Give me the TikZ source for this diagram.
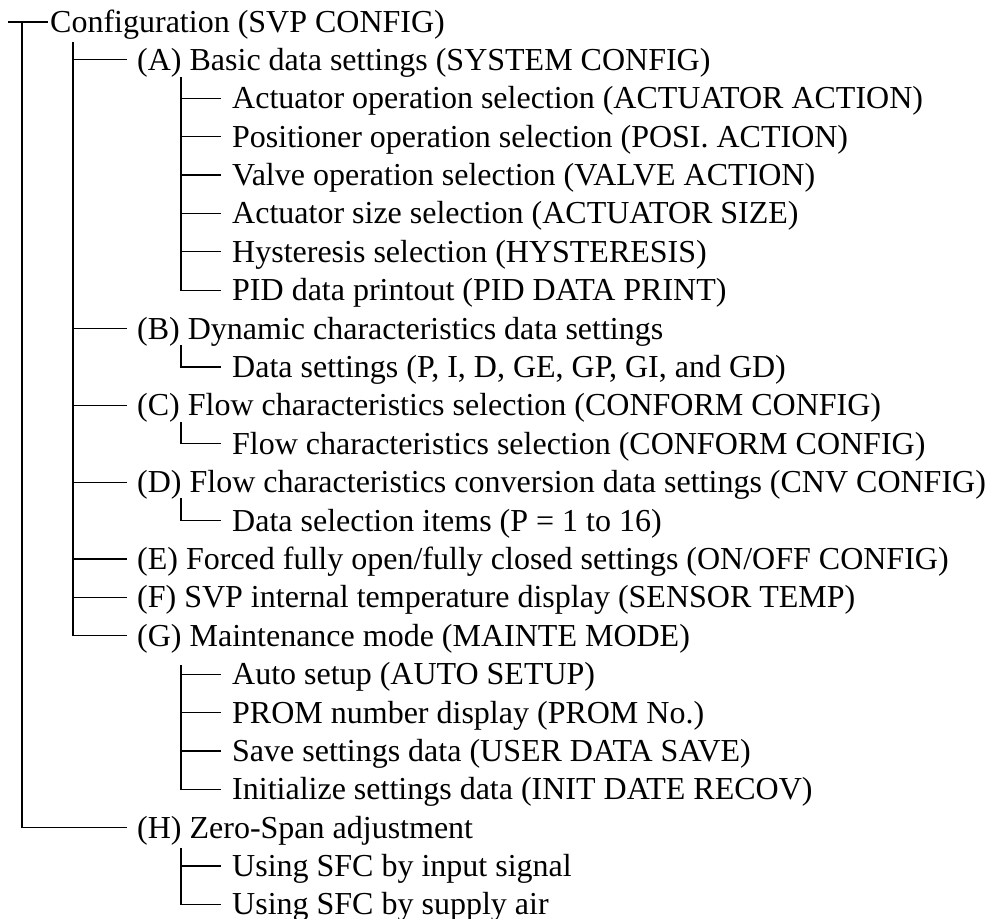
\documentclass[tikz,border=0pt]{standalone}
\usepackage{fontspec}
\setmainfont{Liberation Serif}
\begin{document}
\begin{tikzpicture}[x=1pt,y=-1pt,
  lbl/.style={anchor=base west,inner sep=0pt,text height=21pt,text depth=0pt,font=\fontsize{32}{36}\selectfont},
  br/.style={line width=1.2pt,line cap=butt}]
\useasboundingbox (0,0) rectangle (986,919);
\def\rowy#1{32+38.39*#1}
% root
\node[lbl] (n0) at (50,{\rowy{0}}) {Configuration (SVP CONFIG)};
% level 1
\foreach \i/\t in {1/{(A) Basic data settings (SYSTEM CONFIG)},
                   8/{(B) Dynamic characteristics data settings},
                   10/{(C) Flow characteristics selection (CONFORM CONFIG)},
                   12/{(D) Flow characteristics conversion data settings (CNV CONFIG)},
                   14/{(E) Forced fully open/fully closed settings (ON/OFF CONFIG)},
                   15/{(F) SVP internal temperature display (SENSOR TEMP)},
                   16/{(G) Maintenance mode (MAINTE MODE)},
                   21/{(H) Zero-Span adjustment}}
  {\node[lbl] (n\i) at (137,{\rowy{\i}}) {\t};}
% level 2
\foreach \i/\t in {2/{Actuator operation selection (ACTUATOR ACTION)},
                   3/{Positioner operation selection (POSI. ACTION)},
                   4/{Valve operation selection (VALVE ACTION)},
                   5/{Actuator size selection (ACTUATOR SIZE)},
                   6/{Hysteresis selection (HYSTERESIS)},
                   7/{PID data printout (PID DATA PRINT)},
                   9/{Data settings (P, I, D, GE, GP, GI, and GD)},
                   11/{Flow characteristics selection (CONFORM CONFIG)},
                   13/{Data selection items (P = 1 to 16)},
                   17/{Auto setup (AUTO SETUP)},
                   18/{PROM number display (PROM No.)},
                   19/{Save settings data (USER DATA SAVE)},
                   20/{Initialize settings data (INIT DATE RECOV)},
                   22/{Using SFC by input signal},
                   23/{Using SFC by supply air}}
  {\node[lbl] (n\i) at (232,{\rowy{\i}}) {\t};}
% trunk coordinates
\coordinate (r0) at (8,22);
\coordinate (t0) at (22,22);
\coordinate (t1) at (73,42);
\coordinate (tA) at (181,77);
\coordinate (tB) at (181,345);
\coordinate (tC) at (181,422);
\coordinate (tD) at (181,498);
\coordinate (tG) at (181,665);
\coordinate (tH) at (181,848);
% root connector
\draw[br] (r0) -- ([xshift=-2pt]r0 -| n0.west);
\draw[br] (t0) -- (t0 |- n21.west) -- ([xshift=-10pt]n21.west);
% level 1
\draw[br] (t1) -- (t1 |- n16.west) -- ([xshift=-10pt]n16.west);
\foreach \i in {1,8,10,12,14,15}
  \draw[br] (t1 |- n\i.west) -- ([xshift=-10pt]n\i.west);
% level 2 groups
\draw[br] (tA) -- (tA |- n7.west) -- ([xshift=-11pt]n7.west);
\foreach \i in {2,3,4,5,6}
  \draw[br] (tA |- n\i.west) -- ([xshift=-11pt]n\i.west);
\draw[br] (tB) -- (tB |- n9.west) -- ([xshift=-11pt]n9.west);
\draw[br] (tC) -- (tC |- n11.west) -- ([xshift=-11pt]n11.west);
\draw[br] (tD) -- (tD |- n13.west) -- ([xshift=-11pt]n13.west);
\draw[br] (tG) -- (tG |- n20.west) -- ([xshift=-11pt]n20.west);
\foreach \i in {17,18,19}
  \draw[br] (tG |- n\i.west) -- ([xshift=-11pt]n\i.west);
\draw[br] (tH) -- (tH |- n23.west) -- ([xshift=-11pt]n23.west);
\draw[br] (tH |- n22.west) -- ([xshift=-11pt]n22.west);
\end{tikzpicture}
\end{document}
